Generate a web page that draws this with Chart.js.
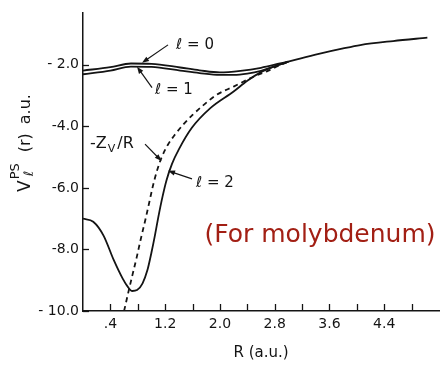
<!DOCTYPE html>
<html>
<head>
<meta charset="utf-8">
<script src="https://cdn.jsdelivr.net/npm/chart.js@4.4.1/dist/chart.umd.min.js"></script>
<style>
  html, body { margin: 0; padding: 0; background: #fff; }
  #wrap { width: 441px; height: 366px; position: relative; }
</style>
</head>
<body>
<div id="wrap"><canvas id="chart" width="441" height="366"></canvas></div>
<script>
// Pseudopotential V_l^PS(r) for molybdenum, radius R in a.u.
const rL0 = [0, 0.4, 0.7, 1.0, 1.42, 1.7, 2.0, 2.3, 2.6, 2.88, 3.0, 3.17, 3.46, 3.8, 4.05, 4.53, 5.03];
const vL0 = [-2.19, -2.08, -1.96, -1.97, -2.09, -2.18, -2.25, -2.2, -2.1, -1.96, -1.9, -1.8, -1.64, -1.47, -1.36, -1.23, -1.12];

const rL1 = [0, 0.4, 0.7, 1.0, 1.42, 1.7, 2.0, 2.2, 2.4, 2.6, 2.8, 3.0];
const vL1 = [-2.31, -2.19, -2.06, -2.07, -2.19, -2.27, -2.33, -2.33, -2.29, -2.2, -2.05, -1.9];

const rL2 = [0, 0.15, 0.3, 0.45, 0.58, 0.65, 0.72, 0.79, 0.87, 0.94, 1.0, 1.05, 1.1, 1.16, 1.22, 1.3, 1.4, 1.59, 1.86, 2.2, 2.4, 2.6, 2.8, 3.0];
const vL2 = [-7.0, -7.1, -7.55, -8.35, -8.95, -9.2, -9.35, -9.32, -9.1, -8.68, -8.1, -7.55, -6.95, -6.3, -5.75, -5.22, -4.75, -4.05, -3.41, -2.87, -2.52, -2.24, -2.05, -1.9];

// bare Coulomb tail -Z_v/R
const rZv = [0.6, 0.67, 0.72, 0.785, 0.84, 0.92, 0.97, 1.02, 1.08, 1.15, 1.24, 1.35, 1.47, 1.6, 1.75, 1.95, 2.2, 2.49, 2.7, 2.85, 3.0];
const vZv = [-10, -9.32, -8.85, -8.25, -7.7, -6.95, -6.45, -5.95, -5.45, -5.0, -4.6, -4.25, -3.93, -3.63, -3.33, -2.98, -2.71, -2.39, -2.2, -2.04, -1.9];

// axis ticks
const xLabelValues = [0.4, 1.2, 2.0, 2.8, 3.6, 4.4];
const xLabels = ['.4', '1.2', '2.0', '2.8', '3.6', '4.4'];
const xMarkValues = [0.4, 0.8, 1.2, 1.6, 2.0, 2.4, 2.8, 3.2, 3.6, 4.0, 4.4, 4.8];
const yTickValues = [-2, -4, -6, -8, -10];
const yLabels = ['- 2.0', '-4.0', '-6.0', '-8.0', '- 10.0'];

const FONT = '"DejaVu Sans", "Liberation Sans", sans-serif';
const INK = '#141414';

const pts = (r, v) => r.map((x, i) => ({ x: x, y: v[i] }));

function curve(label, r, v, dash) {
  return {
    label: label,
    data: pts(r, v),
    borderColor: INK,
    borderWidth: 1.8,
    borderDash: dash || [],
    pointRadius: 0,
    fill: false,
    cubicInterpolationMode: 'monotone',
    tension: 0.4
  };
}

// labels with arrows, placed in data units
const notes = [
  { text: 'ℓ = 0', at: [1.636, -1.355], tail: [1.242, -1.355], head: [0.862, -1.936] },
  { text: 'ℓ = 1', at: [1.329, -2.838], tail: [1.008, -2.741], head: [0.789, -2.064] },
  { text: 'ℓ = 2', at: [1.928, -5.835], tail: [1.592, -5.706], head: [1.242, -5.448] }
];

function arrow(ctx, x0, y0, x1, y1) {
  const a = Math.atan2(y1 - y0, x1 - x0);
  const L = 7, W = 2.6;
  ctx.beginPath();
  ctx.moveTo(x0, y0);
  ctx.lineTo(x1 - L * 0.7 * Math.cos(a), y1 - L * 0.7 * Math.sin(a));
  ctx.stroke();
  ctx.beginPath();
  ctx.moveTo(x1, y1);
  ctx.lineTo(x1 - L * Math.cos(a) + W * Math.sin(a), y1 - L * Math.sin(a) - W * Math.cos(a));
  ctx.lineTo(x1 - L * Math.cos(a) - W * Math.sin(a), y1 - L * Math.sin(a) + W * Math.cos(a));
  ctx.closePath();
  ctx.fill();
}

const extras = {
  id: 'extras',
  afterDraw(chart) {
    const ctx = chart.ctx;
    const xs = chart.scales.x, ys = chart.scales.y;
    const px = r => xs.getPixelForValue(r);
    const py = v => ys.getPixelForValue(v);
    const area = chart.chartArea;
    ctx.save();
    ctx.strokeStyle = INK;
    ctx.fillStyle = INK;
    ctx.lineWidth = 1.3;

    // tick marks pointing into the plot
    xMarkValues.forEach(t => {
      const X = Math.round(px(t)) + 0.5;
      ctx.beginPath(); ctx.moveTo(X, area.bottom); ctx.lineTo(X, area.bottom - 7); ctx.stroke();
    });
    yTickValues.forEach(t => {
      const Y = Math.round(py(t)) + 0.5;
      ctx.beginPath(); ctx.moveTo(area.left, Y); ctx.lineTo(area.left + 6, Y); ctx.stroke();
    });

    // curve labels
    ctx.lineWidth = 1.2;
    ctx.font = '15px ' + FONT;
    ctx.textAlign = 'center';
    ctx.textBaseline = 'middle';
    notes.forEach(n => {
      ctx.fillText(n.text, px(n.at[0]), py(n.at[1]));
      arrow(ctx, px(n.tail[0]), py(n.tail[1]), px(n.head[0]), py(n.head[1]));
    });

    // -Z_v / R label
    let zx = px(0.102), zy = py(-4.546) + 5;
    ctx.textAlign = 'left';
    ctx.textBaseline = 'alphabetic';
    ctx.font = '16px ' + FONT;
    ctx.fillText('-Z', zx, zy);
    zx += ctx.measureText('-Z').width + 1;
    ctx.font = '11px ' + FONT;
    ctx.fillText('V', zx, zy + 4);
    zx += ctx.measureText('V').width + 2;
    ctx.font = '16px ' + FONT;
    ctx.fillText('/R', zx, zy);
    arrow(ctx, px(0.906), py(-4.578), px(1.147), py(-5.126));

    // element note
    ctx.font = '25px ' + FONT;
    ctx.fillStyle = '#a21f14';
    ctx.textAlign = 'center';
    ctx.textBaseline = 'middle';
    ctx.fillText('(For molybdenum)', px(3.462), py(-7.54));

    // rotated y-axis title: V with subscript l and superscript PS
    ctx.fillStyle = INK;
    ctx.translate(area.left - 53, area.bottom - 119);
    ctx.rotate(-Math.PI / 2);
    ctx.textAlign = 'left';
    ctx.textBaseline = 'alphabetic';
    ctx.font = '17px ' + FONT;
    ctx.fillText('V', 0, 0);
    let t = ctx.measureText('V').width + 1;
    ctx.font = '13px ' + FONT;
    ctx.fillText('PS', t, -11);
    ctx.fillText('ℓ', t + 3, 3);
    t += ctx.measureText('PS').width + 11;
    ctx.font = '16px ' + FONT;
    ctx.fillText('(r)', t, 0);
    t += ctx.measureText('(r)').width + 9;
    ctx.fillText('a.u.', t, 0);
    ctx.restore();
  }
};

new Chart(document.getElementById('chart'), {
  type: 'line',
  data: {
    datasets: [
      curve('l = 0', rL0, vL0),
      curve('l = 1', rL1, vL1),
      curve('l = 2', rL2, vL2),
      curve('-Zv/R', rZv, vZv, [5, 4])
    ]
  },
  options: {
    responsive: false,
    animation: false,
    devicePixelRatio: 1,
    layout: { padding: { top: 10, right: 2, left: 0, bottom: 0 } },
    plugins: { legend: { display: false }, tooltip: { enabled: false } },
    scales: {
      x: {
        type: 'linear',
        min: 0,
        max: 5.2,
        afterFit(s) { s.height = 55; },
        afterBuildTicks(s) { s.ticks = xLabelValues.map(v => ({ value: v })); },
        ticks: {
          autoSkip: false,
          maxRotation: 0,
          padding: 5,
          color: INK,
          font: { family: FONT, size: 14 },
          callback: (v) => {
            const i = xLabelValues.findIndex(q => Math.abs(q - v) < 1e-6);
            return i >= 0 ? xLabels[i] : '';
          }
        },
        grid: { display: false, drawTicks: false },
        border: { display: true, color: INK, width: 1.5 },
        title: {
          display: true,
          text: 'R (a.u.)',
          color: INK,
          font: { family: FONT, size: 15 },
          padding: { top: 0, bottom: 4 }
        }
      },
      y: {
        type: 'linear',
        min: -10,
        max: -0.3,
        afterFit(s) { s.width = 83; },
        afterBuildTicks(s) { s.ticks = yTickValues.map(v => ({ value: v })); },
        ticks: {
          autoSkip: false,
          padding: 4,
          color: INK,
          font: { family: FONT, size: 14 },
          callback: (v) => {
            const i = yTickValues.indexOf(v);
            return i >= 0 ? yLabels[i] : '';
          }
        },
        grid: { display: false, drawTicks: false },
        border: { display: true, color: INK, width: 1.5 }
      }
    }
  },
  plugins: [extras]
});
</script>
</body>
</html>
